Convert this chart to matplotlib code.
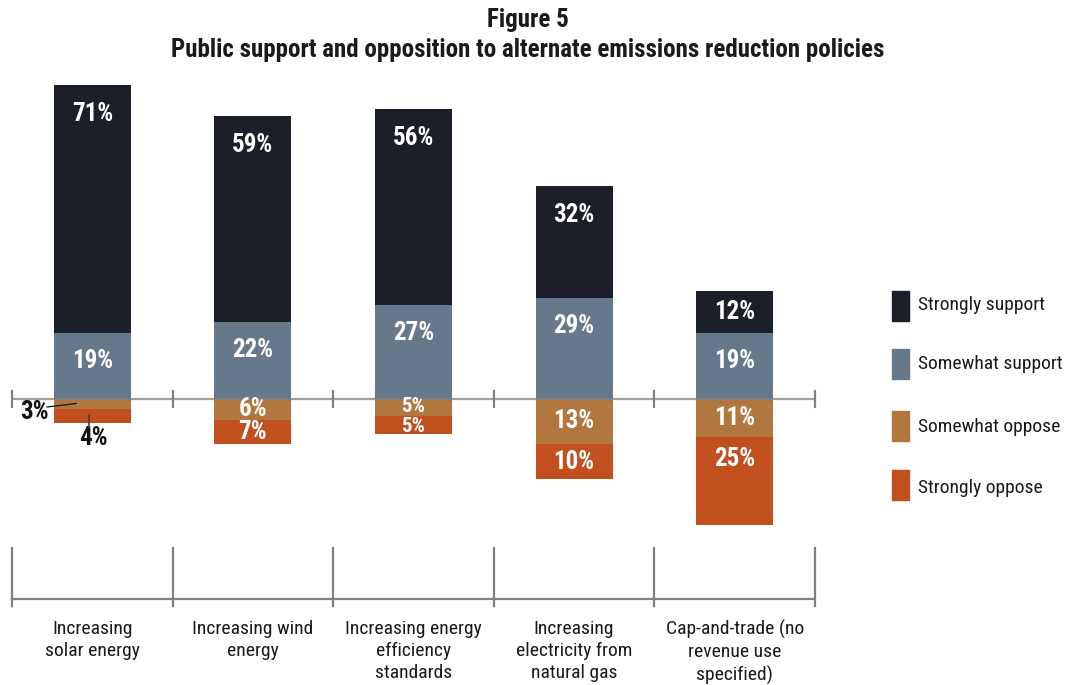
import matplotlib
matplotlib.use("Agg")
import matplotlib.pyplot as plt
from matplotlib import font_manager as fm
import numpy as np

# ---- data -------------------------------------------------------------
categories = [
    "Increasing\nsolar energy",
    "Increasing wind\nenergy",
    "Increasing energy\nefficiency\nstandards",
    "Increasing\nelectricity from\nnatural gas",
    "Cap-and-trade (no\nrevenue use\nspecified)",
]
strongly_support = [71, 59, 56, 32, 12]
somewhat_support = [19, 22, 27, 29, 19]
somewhat_oppose = [3, 6, 5, 13, 11]
strongly_oppose = [4, 7, 5, 10, 25]
series_names = ["Strongly support", "Somewhat support",
                "Somewhat oppose", "Strongly oppose"]
colors = ["#1c1f27", "#66788c", "#b2773e", "#c24f1e"]

# ---- fonts ------------------------------------------------------------
available = {f.name for f in fm.fontManager.ttflist}
preferred = ["Roboto Condensed", "Liberation Sans Narrow", "Open Sans Condensed",
             "Roboto", "Liberation Sans", "DejaVu Sans"]
family = [f for f in preferred if f in available] or ["DejaVu Sans"]
plt.rcParams["font.family"] = family
plt.rcParams["font.stretch"] = "condensed"

W, H = 1067, 685
fig = plt.figure(figsize=(W / 100, H / 100), dpi=100)

# plotting area: x spans the five category slots, y in percent
ax = fig.add_axes([12 / W, 0, (815 - 12) / W, (685 - 60) / H])
ax.set_xlim(0, len(categories))
ax.set_ylim(-81.95, 97.13)
ax.axis("off")

x = np.arange(len(categories)) + 0.5
bw = 0.48
ss = np.array(strongly_support)
ms = np.array(somewhat_support)
mo = np.array(somewhat_oppose)
so = np.array(strongly_oppose)

ax.bar(x, ms, bw, bottom=0, color=colors[1], zorder=2)
ax.bar(x, ss, bw, bottom=ms, color=colors[0], zorder=2)
ax.bar(x, -mo, bw, bottom=0, color=colors[2], zorder=2)
ax.bar(x, -so, bw, bottom=-mo, color=colors[3], zorder=2)

grey = "#808080"
# zero axis with category-boundary ticks
ax.plot([0, len(categories)], [0, 0], color=grey, lw=1.6, zorder=3,
        alpha=0.75, clip_on=False, solid_capstyle="butt")
for b in range(len(categories) + 1):
    ax.plot([b, b], [-2.2, 2.3], color=grey, lw=1.6, zorder=3, clip_on=False)

lab = dict(color="white", fontweight="bold", ha="center", va="center", zorder=4)
for i in range(len(categories)):
    # support segments: labels near the top of each segment
    ax.text(x[i], ms[i] + ss[i] - min(ss[i] / 2, 8.3), f"{ss[i]}%", fontsize=18, **lab)
    ax.text(x[i], ms[i] - min(ms[i] / 2, 8.0), f"{ms[i]}%", fontsize=18, **lab)
    if i == 0:
        continue
    # thin opposition segments get a slightly smaller label
    fs_mo = 18 if mo[i] > 5 else 15
    fs_so = 18 if so[i] > 5 else 15
    ax.text(x[i], -min(mo[i] / 2, 6.3) + (0.3 if mo[i] <= 5 else 0),
            f"{mo[i]}%", fontsize=fs_mo, **lab)
    ax.text(x[i], -mo[i] - min(so[i] / 2, 6.3) - (0.4 if so[i] <= 5 else 0),
            f"{so[i]}%", fontsize=fs_so, **lab)

# small solar segments labelled outside the bar
out = dict(color="#111111", fontsize=18, fontweight="bold",
           ha="center", va="center", zorder=4)
ax.text(0.14, -3.6, f"{mo[0]}%", **out)
ax.plot([0.218, 0.40], [-2.3, -1.3], color="#111111", lw=0.9, zorder=4)
ax.text(0.505, -11.3, f"{so[0]}%", **out)
ax.plot([0.48, 0.48], [-4.6, -8.0], color="#444444", lw=1.2, zorder=4)

# bracket below the bars
ax.plot([0, len(categories)], [-57.3, -57.3], color=grey, lw=1.6, clip_on=False)
for b in range(len(categories) + 1):
    ax.plot([b, b], [-42.7, -59.3], color=grey, lw=1.6, clip_on=False)

for i, name in enumerate(categories):
    ax.text(x[i], -63.3, name, ha="center", va="top", fontsize=14,
            color="#1a1a1a", linespacing=1.3)

# legend
leg_y = [306, 364, 426, 485]
txt_y = [305, 364, 427, 488]
for name, c, yp, ty in zip(series_names, colors, leg_y, txt_y):
    fig.patches.append(plt.Rectangle((892 / W, 1 - (yp + 15) / H), 17 / W, 30 / H,
                                     transform=fig.transFigure, color=c))
    fig.text(918 / W, 1 - ty / H, name, fontsize=14, color="#1a1a1a",
             va="center", ha="left")

fig.text(528 / W, 1 - 20 / H, "Figure 5", ha="center", va="center",
         fontsize=18, fontweight="bold", color="#1a1a1a")
fig.text(528 / W, 1 - 50 / H,
         "Public support and opposition to alternate emissions reduction policies",
         ha="center", va="center", fontsize=18, fontweight="bold", color="#1a1a1a")

fig.savefig("out.png", dpi=100)
